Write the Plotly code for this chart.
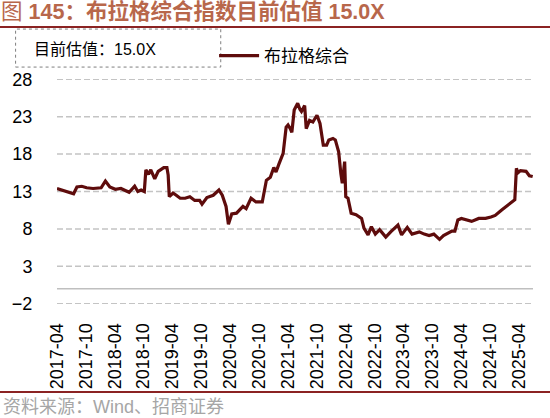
import plotly.graph_objects as go

# 布拉格综合指数 PE
dates = [
    "2017-04-01", "2017-05-05", "2017-06-05", "2017-07-15", "2017-08-05", "2017-09-05",
    "2017-10-05", "2017-11-15", "2018-01-05", "2018-02-01", "2018-03-01", "2018-04-05",
    "2018-05-10", "2018-07-01", "2018-08-05", "2018-08-25", "2018-09-15", "2018-10-05",
    "2018-10-15", "2018-11-01", "2018-11-15", "2018-12-10", "2019-01-01", "2019-02-05",
    "2019-02-25", "2019-03-05", "2019-03-12", "2019-04-05", "2019-04-25", "2019-05-20",
    "2019-06-20", "2019-07-20", "2019-08-20", "2019-09-20", "2019-10-05", "2019-11-05",
    "2019-12-15", "2020-01-20", "2020-02-10", "2020-03-05", "2020-03-20", "2020-04-10",
    "2020-05-10", "2020-05-30", "2020-06-20", "2020-07-10", "2020-08-10", "2020-09-10",
    "2020-10-20", "2020-11-15", "2020-12-10", "2021-01-01", "2021-01-15", "2021-02-01",
    "2021-03-01", "2021-03-20", "2021-04-01", "2021-04-15", "2021-04-25", "2021-05-10",
    "2021-06-01", "2021-06-15", "2021-06-25", "2021-07-15", "2021-07-25", "2021-08-15",
    "2021-09-05", "2021-10-01", "2021-10-20", "2021-11-10", "2021-12-01", "2021-12-15",
    "2022-01-10", "2022-01-25", "2022-02-15", "2022-03-01", "2022-03-10", "2022-03-25",
    "2022-04-01", "2022-04-15", "2022-05-05", "2022-06-05", "2022-07-10", "2022-07-25",
    "2022-08-20", "2022-09-10", "2022-10-05", "2022-11-01", "2022-12-10", "2023-01-10",
    "2023-02-25", "2023-03-20", "2023-04-25", "2023-05-25", "2023-07-10", "2023-08-10",
    "2023-09-10", "2023-10-10", "2023-11-15", "2023-12-10", "2024-01-10", "2024-02-01",
    "2024-02-20", "2024-03-10", "2024-04-01", "2024-05-01", "2024-06-05", "2024-07-20",
    "2024-09-01", "2024-10-05", "2024-11-01", "2024-12-10", "2025-01-15", "2025-02-10",
    "2025-03-05", "2025-03-15", "2025-03-25", "2025-04-10", "2025-05-15", "2025-06-05",
    "2025-06-26",
]
pe_values = [
    13.4, 13.2, 13.0, 12.7, 13.6, 13.7,
    13.5, 13.4, 13.5, 14.4, 13.6, 13.3,
    13.4, 12.9, 13.7, 13.0, 13.2, 13.0,
    15.9, 15.3, 15.9, 14.7, 15.7, 16.2,
    16.2, 15.2, 12.3, 12.8, 12.5, 12.1,
    12.1, 12.3, 11.8, 11.8, 11.3, 12.2,
    12.5, 13.2, 12.5, 11.0, 8.6, 10.0,
    10.1, 10.5, 11.0, 10.7, 12.1, 11.6,
    11.6, 14.5, 14.9, 16.2, 15.6, 16.6,
    18.1, 21.6, 21.9, 21.4, 20.9, 23.9,
    24.8, 24.0, 23.7, 24.5, 21.4, 22.5,
    22.3, 23.2, 22.1, 19.2, 19.2, 19.9,
    20.1, 19.9, 18.3, 15.4, 14.1, 17.0,
    12.3, 12.1, 10.1, 9.9, 9.4, 8.1,
    7.2, 8.3, 7.3, 7.9, 6.9, 7.6,
    8.5, 7.2, 8.2, 7.3, 7.6, 7.3,
    7.1, 7.3, 6.6, 7.1, 7.5, 7.7,
    7.7, 9.2, 9.4, 9.2, 9.0, 9.4,
    9.4, 9.6, 9.8, 10.5, 11.1, 11.6,
    11.9, 16.1, 15.5, 15.8, 15.7, 15.1,
    15.0,
]
y_ticks = [-2, 3, 8, 13, 18, 23, 28]

x_range = ["2017-04-01", "2025-06-28"]
font_family = "Liberation Sans, Arial, Noto Sans CJK SC"

fig = go.Figure()
fig.add_trace(go.Scatter(x=dates, y=pe_values, mode="lines", name="布拉格综合",
                         line=dict(color="#5E0C0C", width=3.2)))

fig.update_layout(
    width=550, height=418,
    margin=dict(l=57, r=17, t=79, b=114),
    paper_bgcolor="white", plot_bgcolor="white",
    font=dict(family=font_family, size=14, color="black"),
    title=dict(text="图 <b>145：布拉格综合指数目前估值 15.0X</b>",
               x=0.002, xanchor="left", y=0.972, yanchor="middle",
               font=dict(family="Liberation Sans, Noto Sans CJK SC", size=21.5, color="#B8674B")),
    showlegend=True,
    legend=dict(x=0.33, xanchor="left", y=1.102, yanchor="middle", orientation="h",
                itemwidth=40, bgcolor="rgba(0,0,0,0)",
                font=dict(family="Noto Sans CJK SC", size=17, color="black")),
    xaxis=dict(type="date", range=x_range, tick0="2017-04-01", dtick="M6",
               tickformat="%Y-%m", tickangle=-90, showgrid=False, showline=False,
               ticks="outside", ticklen=11, tickcolor="white",
               tickfont=dict(size=18), zeroline=False),
    yaxis=dict(range=[-2.05, 28.05], tickvals=y_ticks, showgrid=False,
               zeroline=False, showline=False, ticks="outside", ticklen=20,
               tickcolor="white", tickfont=dict(size=18)),
)

# dashed gridlines at the y ticks, drawn as shapes
for v in y_ticks:
    fig.add_shape(type="line", xref="paper", yref="y", x0=0, x1=1, y0=v, y1=v,
                  line=dict(color="#C4C4C4", width=1.5, dash="6px,3px"), layer="below")
# axis line at zero
fig.add_shape(type="line", xref="paper", yref="y", x0=0, x1=1, y0=0, y1=0,
              line=dict(color="#BFBFBF", width=1.5), layer="below")

# header / footer rules
fig.add_shape(type="line", xref="paper", yref="paper", x0=-0.12, x1=1.04, y0=1.231, y1=1.231,
              line=dict(color="#8B2323", width=2))
fig.add_shape(type="line", xref="paper", yref="paper", x0=-0.12, x1=1.04, y0=-0.391, y1=-0.391,
              line=dict(color="#8B2323", width=2))

# valuation box
fig.add_shape(type="rect", xref="paper", yref="paper", x0=-0.087, x1=0.344, y0=1.053, y1=1.222,
              line=dict(color="#7F7F7F", width=1, dash="dot"))
fig.add_annotation(text="目前估值：15.0X", xref="paper", yref="paper", x=-0.052, y=1.129,
                   xanchor="left", yanchor="middle", showarrow=False,
                   font=dict(family="Liberation Sans, Noto Sans CJK SC", size=16, color="black"))

fig.add_annotation(text="资料来源：Wind、招商证券", xref="paper", yref="paper", x=-0.117, y=-0.458,
                   xanchor="left", yanchor="middle", showarrow=False,
                   font=dict(family="Liberation Sans, Noto Sans CJK SC", size=18, color="#A6A6A6"))

fig.write_html("out.html", config={"displayModeBar": False},
               post_script="document.body.style.margin='0';")
